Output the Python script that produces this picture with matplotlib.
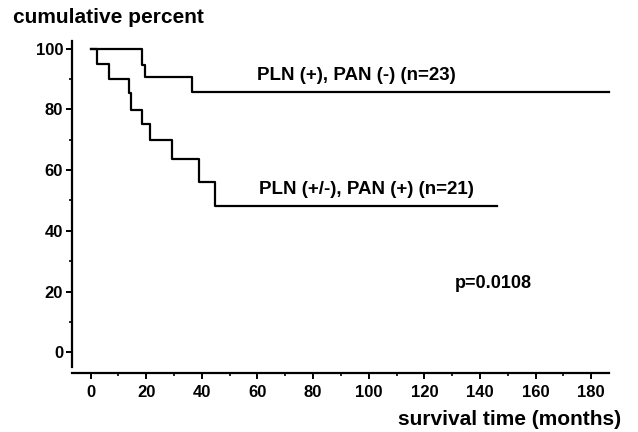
import matplotlib
matplotlib.use("Agg")
import matplotlib.pyplot as plt
from matplotlib.ticker import MultipleLocator

plt.rcParams['font.family'] = ['Liberation Sans', 'DejaVu Sans']
plt.rcParams['font.weight'] = 'bold'

# Kaplan-Meier steps (months, cumulative percent)
t_neg = [0, 18.6, 19.5, 36.6, 186.5]
s_neg = [100, 94.8, 90.7, 85.7, 85.7]
t_pos = [0, 2.4, 6.7, 13.8, 14.5, 18.3, 21.3, 29.1, 38.8, 44.7, 146.2]
s_pos = [100, 94.9, 89.9, 85.3, 79.8, 75.3, 69.9, 63.8, 56.1, 48.2, 48.2]

label_neg = "PLN (+), PAN (-) (n=23)"
label_pos = "PLN (+/-), PAN (+) (n=21)"
p_text = "p=0.0108"

fig = plt.figure(figsize=(6.38, 4.32), dpi=100)
ax = fig.add_axes([0.1129, 0.1368, 0.8455, 0.7715])
ax.set_xlim(-6.7, 187.3)
ax.set_ylim(-6.8, 103)

ax.step(t_neg, s_neg, where="post", color="black", lw=1.6, clip_on=False)
ax.step(t_pos, s_pos, where="post", color="black", lw=1.6, clip_on=False)

ax.text(59.9, 89.7, label_neg, fontsize=13.5, fontweight="bold", va="baseline")
ax.text(60.6, 52.0, label_pos, fontsize=13.5, fontweight="bold", va="baseline")
ax.text(130.8, 21.3, p_text, fontsize=13, fontweight="bold", va="baseline")

for s in ("top", "right"):
    ax.spines[s].set_visible(False)
ax.spines["left"].set_bounds(-5, 102.5)
ax.spines["bottom"].set_bounds(-6.7, 186.4)
ax.spines["left"].set_linewidth(1.6)
ax.spines["bottom"].set_linewidth(1.6)

ax.xaxis.set_major_locator(MultipleLocator(20))
ax.xaxis.set_minor_locator(MultipleLocator(10))
ax.yaxis.set_major_locator(MultipleLocator(20))
ax.yaxis.set_minor_locator(MultipleLocator(10))
ax.set_xticks(range(0, 181, 20))
ax.set_yticks(range(0, 101, 20))
ax.set_yticks(range(10, 100, 20), minor=True)
ax.set_xticks(range(10, 190, 20), minor=True)
ax.tick_params(which="major", direction="out", length=4.5, width=1.4, labelsize=12, pad=2)
ax.tick_params(which="minor", direction="out", length=2.5, width=1.2)
ax.tick_params(axis="x", which="major", pad=4)
for lab in ax.get_xticklabels() + ax.get_yticklabels():
    lab.set_fontweight("bold")

fig.text(0.021, 0.947, "cumulative percent", fontsize=15, fontweight="bold", va="baseline")
fig.text(0.973, 0.016, "survival time (months)", fontsize=15, fontweight="bold",
         ha="right", va="baseline")

fig.savefig("out.png", dpi=100)
